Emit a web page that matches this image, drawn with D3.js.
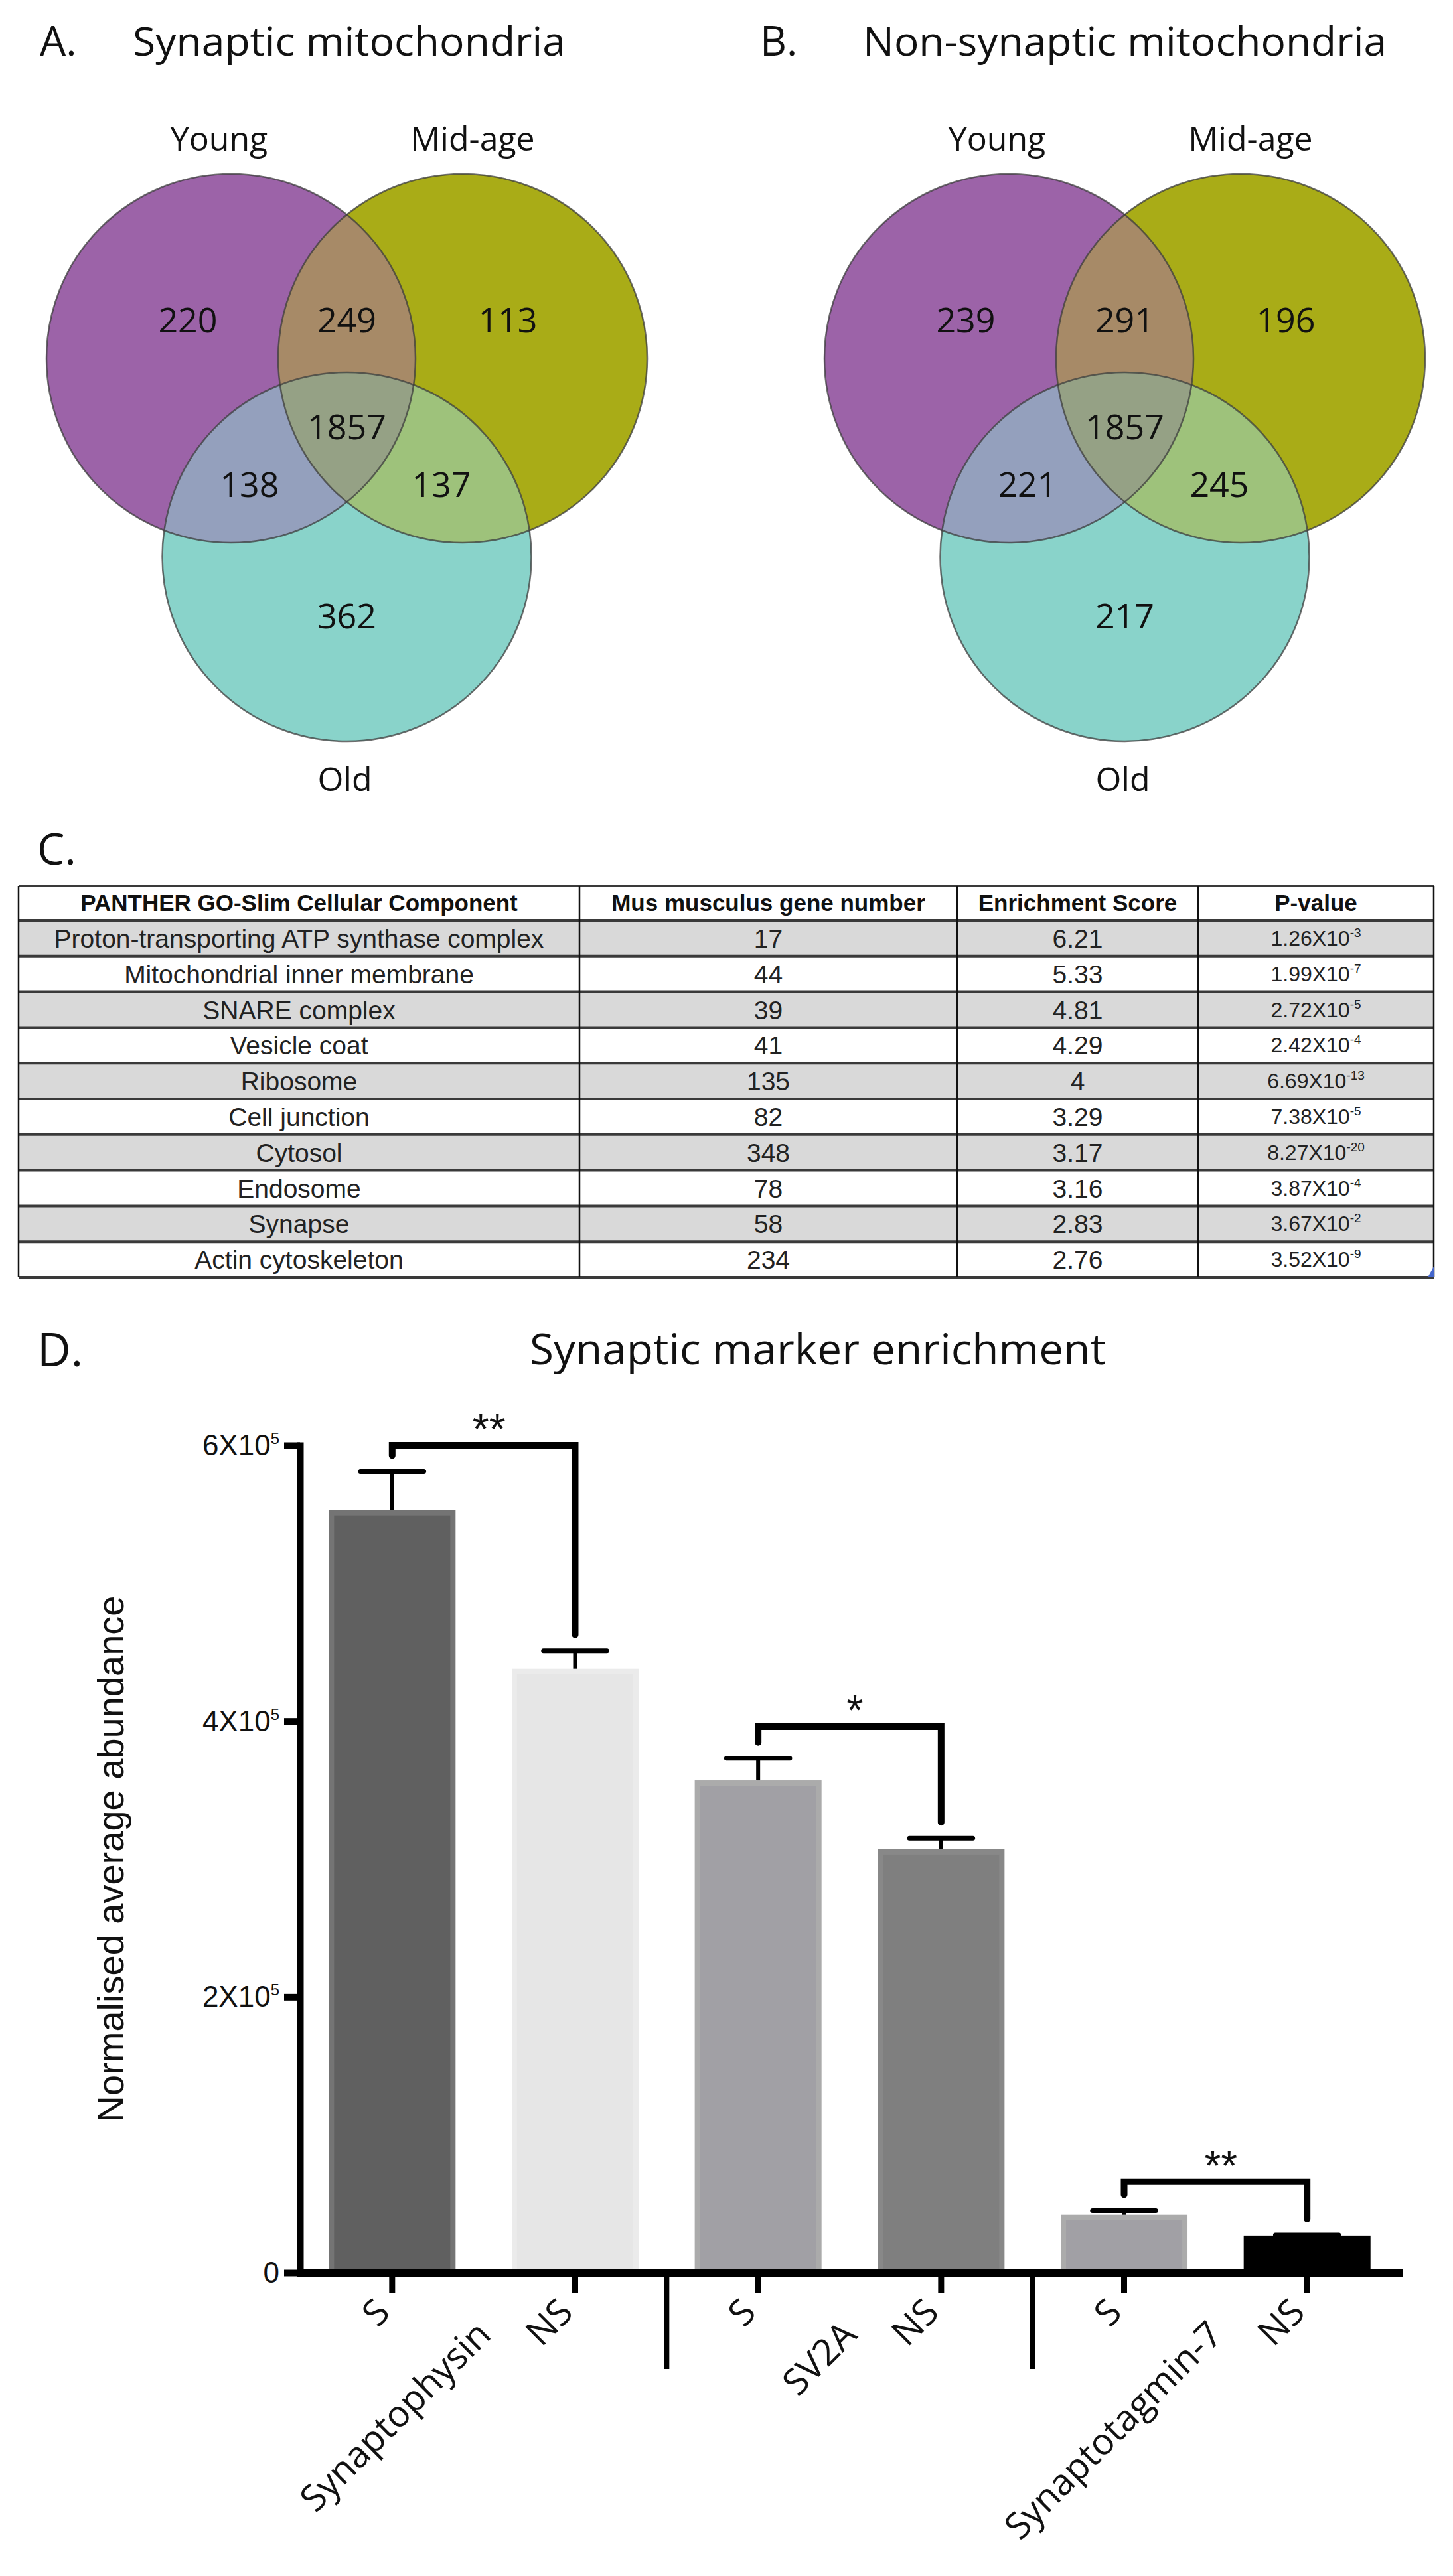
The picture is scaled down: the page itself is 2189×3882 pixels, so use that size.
<!DOCTYPE html>
<html>
<head>
<meta charset="utf-8">
<script src="https://cdn.jsdelivr.net/npm/d3@7"></script>
<style>
  body { margin: 0; background: #fff; }
  svg { display: block; }
</style>
</head>
<body>
<script>
// ---- data ----
// venn regions: Young only, Young+Mid, Mid only, all three, Young+Old, Mid+Old, Old only
const vennSets = ['Young', 'Mid-age', 'Old']
const vennRegions = ['y', 'ym', 'm', 'ymo', 'yo', 'mo', 'o']
const synapticCounts = [220, 249, 113, 1857, 138, 137, 362]
const nonSynapticCounts = [239, 291, 196, 1857, 221, 245, 217]

// GO table
const tableHeader = ['PANTHER GO-Slim Cellular Component', 'Mus musculus gene number', 'Enrichment Score', 'P-value']
const components = ['Proton-transporting ATP synthase complex', 'Mitochondrial inner membrane', 'SNARE complex',
  'Vesicle coat', 'Ribosome', 'Cell junction', 'Cytosol', 'Endosome', 'Synapse', 'Actin cytoskeleton']
const geneNumbers = [17, 44, 39, 41, 135, 82, 348, 78, 58, 234]
const enrichmentScores = [6.21, 5.33, 4.81, 4.29, 4, 3.29, 3.17, 3.16, 2.83, 2.76]
const pMantissa = ['1.26', '1.99', '2.72', '2.42', '6.69', '7.38', '8.27', '3.87', '3.67', '3.52']
const pExponent = [-3, -7, -5, -4, -13, -5, -20, -4, -2, -9]

// bar chart
const markers = ['Synaptophysin', 'SV2A', 'Synaptotagmin-7']
const fractions = ['S', 'NS']
const means = [5.53e5, 4.38e5, 3.57e5, 3.07e5, 0.42e5, 0.27e5]
const sems = [0.28e5, 0.13e5, 0.16e5, 0.08e5, 0.03e5, 0.004e5]
const yTicks = [0, 2e5, 4e5, 6e5]
const sigLabels = ['**', '*', '**']
const sigLevels = [6.0e5, 3.96e5, 0.66e5]

// ---- styles ----
const sans = '"Open Sans", "Noto Sans", sans-serif'
const arial = '"Liberation Sans", Arial, sans-serif'
const setColors = ['#9c63a8', '#a9ac17', '#89d3ca']
const regionColors = { ym: '#a78a67', yo: '#94a0bd', mo: '#9ec27b', ymo: '#95a185' }
const barFill = ['#606060', '#e6e6e6', '#a1a0a5', '#7f7f7f', '#a1a0a5', '#000000']
const barEdge = ['#747474', '#ebebeb', '#ababab', '#888888', '#ababab', '#000000']

const W = 2189, H = 3882
const svg = d3.select('body').append('svg').attr('width', W).attr('height', H)
const defs = svg.append('defs')

function label(x, y, txt, size, opts) {
  opts = opts || {}
  const t = svg.append('text')
    .attr('x', x).attr('y', y)
    .attr('font-family', opts.family || sans)
    .attr('font-size', size)
    .attr('fill', '#111')
    .attr('text-anchor', opts.anchor || 'start')
    .text(txt)
  if (opts.width) t.attr('textLength', opts.width).attr('lengthAdjust', 'spacingAndGlyphs')
  return t
}

// ---- panels A and B: venn ----
const vennR = 278, vennD = 349, vennH = 299, vennCy = 540

function venn(id, cx0, counts) {
  const g = svg.append('g')
  const c = [[cx0, vennCy], [cx0 + vennD, vennCy], [cx0 + vennD / 2, vennCy + vennH]]
  c.forEach((p, i) => {
    defs.append('clipPath').attr('id', id + i)
      .append('circle').attr('cx', p[0]).attr('cy', p[1]).attr('r', vennR)
  })
  g.selectAll('circle.base').data(c).enter().append('circle')
    .attr('class', 'base')
    .attr('cx', d => d[0]).attr('cy', d => d[1]).attr('r', vennR)
    .attr('fill', (d, i) => setColors[i])
  // overlap: [circle drawn, clipped by, region]
  const pairs = [[1, 0, 'ym'], [2, 0, 'yo'], [2, 1, 'mo']]
  pairs.forEach(p => {
    g.append('circle')
      .attr('cx', c[p[0]][0]).attr('cy', c[p[0]][1]).attr('r', vennR)
      .attr('clip-path', `url(#${id}${p[1]})`)
      .attr('fill', regionColors[p[2]])
  })
  g.append('g').attr('clip-path', `url(#${id}1)`)
    .append('circle')
    .attr('cx', c[2][0]).attr('cy', c[2][1]).attr('r', vennR)
    .attr('clip-path', `url(#${id}0)`)
    .attr('fill', regionColors.ymo)
  g.selectAll('circle.edge').data(c).enter().append('circle')
    .attr('class', 'edge')
    .attr('cx', d => d[0]).attr('cy', d => d[1]).attr('r', vennR)
    .attr('fill', 'none').attr('stroke', '#3c3c3c').attr('stroke-opacity', 0.75).attr('stroke-width', 2.5)

  const spots = {
    y: [c[0][0] - 65, vennCy - 39],
    ym: [c[2][0], vennCy - 39],
    m: [c[1][0] + 68, vennCy - 39],
    ymo: [c[2][0], vennCy + 122],
    yo: [c[0][0] + 28, vennCy + 209],
    mo: [c[1][0] - 32, vennCy + 209],
    o: [c[2][0], c[2][1] + 108]
  }
  g.selectAll('text.count').data(vennRegions).enter().append('text')
    .attr('class', 'count')
    .attr('x', k => spots[k][0]).attr('y', k => spots[k][1])
    .attr('text-anchor', 'middle')
    .attr('font-family', sans).attr('font-size', 52).attr('fill', '#111')
    .text((k, i) => counts[i])

  const names = [[c[0][0] - 18, vennCy - 313], [c[1][0] + 15, vennCy - 313], [c[2][0] - 3, c[2][1] + 353]]
  g.selectAll('text.set').data(vennSets).enter().append('text')
    .attr('class', 'set')
    .attr('x', (d, i) => names[i][0]).attr('y', (d, i) => names[i][1])
    .attr('text-anchor', 'middle')
    .attr('font-family', sans).attr('font-size', 50).attr('fill', '#111')
    .text(d => d)
}

label(60, 84, 'A.', 62)
label(200, 84, 'Synaptic mitochondria', 60, { width: 652 })
venn('va', 348, synapticCounts)

label(1145, 84, 'B.', 62)
label(1300, 84, 'Non-synaptic mitochondria', 60, { width: 789 })
venn('vb', 1520, nonSynapticCounts)

// ---- panel C: table ----
label(56, 1303, 'C.', 66)
const colEdges = [28, 873, 1442, 1805, 2160]
const tableTop = 1335, headBottom = 1387, tableBottom = 1925
const rowY = d3.scaleLinear().domain([0, components.length]).range([headBottom, tableBottom])
const colMid = j => (colEdges[j] + colEdges[j + 1]) / 2
const tbl = svg.append('g')

tbl.selectAll('rect.row').data(components).enter().append('rect')
  .attr('class', 'row')
  .attr('x', colEdges[0]).attr('width', colEdges[4] - colEdges[0])
  .attr('y', (d, i) => rowY(i)).attr('height', (d, i) => rowY(i + 1) - rowY(i))
  .attr('fill', (d, i) => i % 2 === 0 ? '#d9d9d9' : '#ffffff')

tbl.selectAll('text.head').data(tableHeader).enter().append('text')
  .attr('class', 'head')
  .attr('x', (d, j) => colMid(j)).attr('y', (tableTop + headBottom) / 2 + 12)
  .attr('text-anchor', 'middle')
  .attr('font-family', arial).attr('font-weight', 'bold').attr('font-size', 35).attr('fill', '#111')
  .text(d => d)

const cellCols = [components, geneNumbers, enrichmentScores]
cellCols.forEach((col, j) => {
  tbl.selectAll('text.c' + j).data(col).enter().append('text')
    .attr('class', 'c' + j)
    .attr('x', colMid(j)).attr('y', (d, i) => (rowY(i) + rowY(i + 1)) / 2 + 14)
    .attr('text-anchor', 'middle')
    .attr('font-family', arial).attr('font-size', 39).attr('fill', '#222')
    .text(d => String(d))
})
const pText = tbl.selectAll('text.p').data(pMantissa).enter().append('text')
  .attr('class', 'p')
  .attr('x', colMid(3)).attr('y', (d, i) => (rowY(i) + rowY(i + 1)) / 2 + 11)
  .attr('text-anchor', 'middle')
  .attr('font-family', arial).attr('font-size', 32).attr('fill', '#222')
pText.append('tspan').text(d => d + 'X10')
pText.append('tspan').attr('font-size', 19).attr('dy', -13).text((d, i) => String(pExponent[i]))

const hLines = [tableTop].concat(d3.range(components.length + 1).map(i => rowY(i)))
tbl.selectAll('line.h').data(hLines).enter().append('line')
  .attr('class', 'h')
  .attr('x1', colEdges[0]).attr('x2', colEdges[4])
  .attr('y1', d => d).attr('y2', d => d)
  .attr('stroke', '#3a3a3a').attr('stroke-width', 4)
tbl.selectAll('line.v').data(colEdges).enter().append('line')
  .attr('class', 'v')
  .attr('x1', d => d).attr('x2', d => d)
  .attr('y1', tableTop).attr('y2', tableBottom)
  .attr('stroke', '#111').attr('stroke-width', 2.5)
tbl.append('path')
  .attr('d', `M${colEdges[4]},${tableBottom - 16}L${colEdges[4]},${tableBottom}L${colEdges[4] - 9},${tableBottom}Z`)
  .attr('fill', '#4466cc')

// ---- panel D: bar chart ----
label(56, 2059, 'D.', 70)
label(798, 2056, 'Synaptic marker enrichment', 64, { width: 868 })

const ids = d3.range(means.length)
const x = d3.scaleBand().domain(ids).range([452, 2108]).paddingInner(0.307).paddingOuter(0.157)
const y = d3.scaleLinear().domain([0, 6e5]).range([3425, 2178])
const bw = x.bandwidth()
const cx = i => x(i) + bw / 2
const chart = svg.append('g')

// bars with lighter rim
chart.selectAll('rect.bar').data(means).enter().append('rect')
  .attr('class', 'bar')
  .attr('x', (d, i) => x(i) + 4).attr('width', bw - 8)
  .attr('y', d => y(d) + 4).attr('height', d => y(0) - y(d) - 4)
  .attr('fill', (d, i) => barFill[i])
  .attr('stroke', (d, i) => barEdge[i]).attr('stroke-width', 8)

// error bars
chart.selectAll('line.err').data(means).enter().append('line')
  .attr('class', 'err')
  .attr('x1', (d, i) => cx(i)).attr('x2', (d, i) => cx(i))
  .attr('y1', d => y(d)).attr('y2', (d, i) => y(d + sems[i]))
  .attr('stroke', '#000').attr('stroke-width', 6)
chart.selectAll('line.cap').data(means).enter().append('line')
  .attr('class', 'cap')
  .attr('x1', (d, i) => cx(i) - bw / 4).attr('x2', (d, i) => cx(i) + bw / 4)
  .attr('y1', (d, i) => y(d + sems[i])).attr('y2', (d, i) => y(d + sems[i]))
  .attr('stroke', '#000').attr('stroke-width', 7).attr('stroke-linecap', 'round')

// axes
const yAxis = chart.append('g').attr('transform', `translate(${452},0)`)
  .call(d3.axisLeft(y).tickValues(yTicks).tickSize(24).tickSizeOuter(0).tickFormat(''))
yAxis.select('.domain').attr('stroke', '#000').attr('stroke-width', 10).attr('stroke-linecap', 'square')
yAxis.selectAll('.tick line').attr('stroke', '#000').attr('stroke-width', 10)

const xAxis = chart.append('g').attr('transform', `translate(0,${y(0)})`)
  .call(d3.axisBottom(x).tickSize(30).tickSizeOuter(0).tickFormat(''))
xAxis.select('.domain').attr('stroke', '#000').attr('stroke-width', 11).attr('stroke-linecap', 'square')
xAxis.selectAll('.tick line').attr('stroke', '#000').attr('stroke-width', 9)

// y tick labels with superscript
const yl = chart.selectAll('text.ytick').data(yTicks).enter().append('text')
  .attr('class', 'ytick')
  .attr('x', 421).attr('y', d => y(d) + 15)
  .attr('text-anchor', 'end')
  .attr('font-family', arial).attr('font-size', 44).attr('fill', '#111')
yl.append('tspan').text(d => d === 0 ? '0' : (d / 1e5) + 'X10')
yl.filter(d => d !== 0).append('tspan').attr('font-size', 24).attr('dy', -17).text('5')

// group separators
const seps = d3.range(1, markers.length)
chart.selectAll('line.sep').data(seps).enter().append('line')
  .attr('class', 'sep')
  .attr('x1', g => (cx(2 * g - 1) + cx(2 * g)) / 2).attr('x2', g => (cx(2 * g - 1) + cx(2 * g)) / 2)
  .attr('y1', y(0)).attr('y2', y(0) + 145)
  .attr('stroke', '#000').attr('stroke-width', 8)

// x labels
chart.selectAll('text.frac').data(ids).enter().append('text')
  .attr('class', 'frac')
  .attr('transform', i => `translate(${cx(i) - 14},${y(0) + 49}) rotate(-45)`)
  .attr('dy', '0.35em')
  .attr('text-anchor', 'end')
  .attr('font-family', sans).attr('font-size', 55).attr('fill', '#111')
  .text(i => fractions[i % 2])
chart.selectAll('text.marker').data(markers).enter().append('text')
  .attr('class', 'marker')
  .attr('transform', (d, g) => `translate(${(cx(2 * g) + cx(2 * g + 1)) / 2},${y(0) + 83}) rotate(-45)`)
  .attr('dy', '0.35em')
  .attr('text-anchor', 'end')
  .attr('font-family', sans).attr('font-size', 55).attr('fill', '#111')
  .text(d => d)

// y title
svg.append('text')
  .attr('transform', `translate(186,${(y(0) + y(6e5)) / 2 + 0}) rotate(-90)`)
  .attr('text-anchor', 'middle')
  .attr('font-family', arial).attr('font-size', 56).attr('fill', '#111')
  .text('Normalised average abundance')

// significance brackets
chart.selectAll('path.sig').data(sigLevels).enter().append('path')
  .attr('class', 'sig')
  .attr('d', (lv, g) => {
    const a = 2 * g, b = 2 * g + 1
    const la = y(means[a] + sems[a]) - 24, lb = y(means[b] + sems[b]) - 24
    return `M${cx(a)},${la}V${y(lv)}H${cx(b)}V${lb}`
  })
  .attr('fill', 'none').attr('stroke', '#000').attr('stroke-width', 10)
  .attr('stroke-linecap', 'round').attr('stroke-linejoin', 'miter')
chart.selectAll('text.sig').data(sigLabels).enter().append('text')
  .attr('class', 'sig')
  .attr('x', (d, g) => (cx(2 * g) + cx(2 * g + 1)) / 2 + 8)
  .attr('y', (d, g) => y(sigLevels[g]) - 2)
  .attr('text-anchor', 'middle')
  .attr('font-family', arial).attr('font-size', 64).attr('fill', '#111')
  .text(d => d)
</script>
</body>
</html>
